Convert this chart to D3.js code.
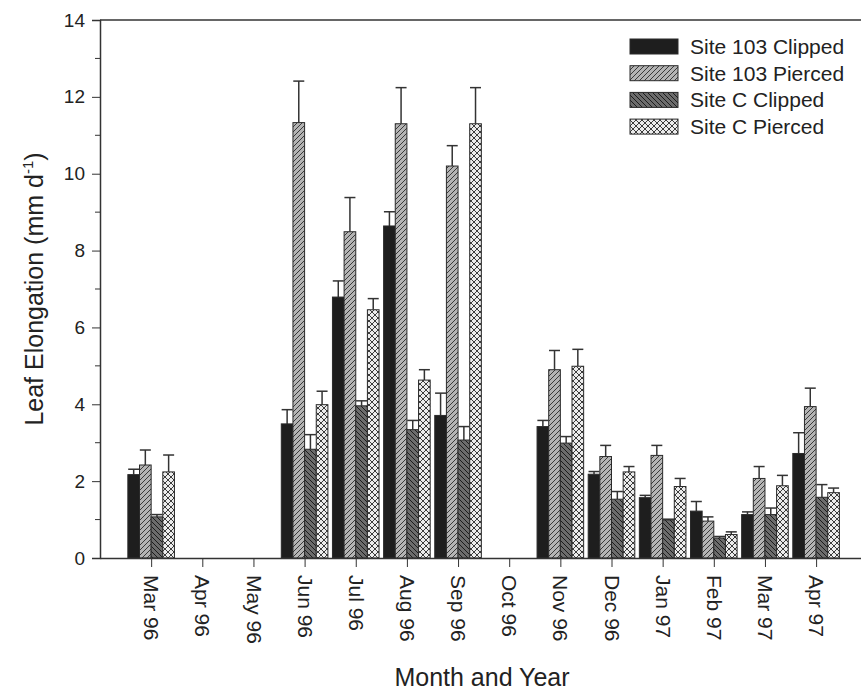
<!DOCTYPE html>
<html>
<head>
<meta charset="utf-8">
<script src="https://cdn.jsdelivr.net/npm/d3@7"></script>
<style>
  body { margin: 0; background: #fff; }
  svg { font-family: "Liberation Sans", Arial, sans-serif; }
</style>
</head>
<body>
<div id="chart"></div>
<script>
// data (means, and upper SE whisker length)
const months = ["Mar 96", "Apr 96", "May 96", "Jun 96", "Jul 96", "Aug 96", "Sep 96",
                "Oct 96", "Nov 96", "Dec 96", "Jan 97", "Feb 97", "Mar 97", "Apr 97"];
const seriesNames = ["Site 103 Clipped", "Site 103 Pierced", "Site C Clipped", "Site C Pierced"];

const clip103     = [2.17, null, null, 3.49, 6.79, 8.64, 3.71, null, 3.42, 2.18, 1.57, 1.22, 1.13, 2.72];
const clip103Err  = [0.14, null, null, 0.37, 0.42, 0.37, 0.58, null, 0.16, 0.07, 0.06, 0.25, 0.07, 0.54];
const pierce103   = [2.42, null, null, 11.33, 8.49, 11.30, 10.20, null, 4.90, 2.64, 2.67, 0.96, 2.07, 3.94];
const pierce103Err= [0.39, null, null, 1.08, 0.89, 0.94, 0.53, null, 0.50, 0.29, 0.26, 0.11, 0.31, 0.48];
const clipC       = [1.07, null, null, 2.83, 3.96, 3.34, 3.07, null, 2.99, 1.53, 0.99, 0.52, 1.13, 1.58];
const clipCErr    = [0.06, null, null, 0.38, 0.13, 0.24, 0.35, null, 0.17, 0.20, 0.02, 0.04, 0.17, 0.33];
const pierceC     = [2.24, null, null, 3.99, 6.46, 4.63, 11.30, null, 4.99, 2.24, 1.86, 0.61, 1.88, 1.70];
const pierceCErr  = [0.44, null, null, 0.35, 0.29, 0.27, 0.94, null, 0.44, 0.14, 0.21, 0.07, 0.27, 0.12];

const yTicks = [0, 2, 4, 6, 8, 10, 12, 14];

const seriesValues = [clip103, pierce103, clipC, pierceC];
const seriesErrs = [clip103Err, pierce103Err, clipCErr, pierceCErr];
const seriesFill = ["#1e1e1e", "url(#hatchFwd)", "url(#hatchBack)", "url(#cross)"];

const W = 861, H = 691;
const margin = {left: 100, top: 20, bottom: 558};
const step = 51.15;

const svg = d3.select("#chart").append("svg")
    .attr("width", W)
    .attr("height", H);

// patterns
const defs = svg.append("defs");

const fwd = defs.append("pattern")
    .attr("id", "hatchFwd")
    .attr("patternUnits", "userSpaceOnUse")
    .attr("width", 5).attr("height", 5);
fwd.append("rect").attr("width", 5).attr("height", 5).attr("fill", "#b4b4b4");
fwd.append("path").attr("d", "M-1,1 l2,-2 M0,5 l5,-5 M4,6 l2,-2")
    .attr("stroke", "#3a3a3a").attr("stroke-width", 1);

const back = defs.append("pattern")
    .attr("id", "hatchBack")
    .attr("patternUnits", "userSpaceOnUse")
    .attr("width", 5).attr("height", 5);
back.append("rect").attr("width", 5).attr("height", 5).attr("fill", "#6c6c6c");
back.append("path").attr("d", "M-1,4 l2,2 M0,0 l5,5 M4,-1 l2,2")
    .attr("stroke", "#1c1c1c").attr("stroke-width", 1);

const cross = defs.append("pattern")
    .attr("id", "cross")
    .attr("patternUnits", "userSpaceOnUse")
    .attr("width", 6).attr("height", 6);
cross.append("rect").attr("width", 6).attr("height", 6).attr("fill", "#ececec");
cross.append("path").attr("d", "M0,0 L6,6 M6,0 L0,6")
    .attr("stroke", "#3c3c3c").attr("stroke-width", 1);

// scales
const x = d3.scaleLinear()
    .domain([-1, months.length])
    .range([margin.left, margin.left + (months.length + 1) * step]);

const y = d3.scaleLinear()
    .domain([0, 14])
    .range([margin.bottom, margin.top]);

const sub = d3.scaleBand()
    .domain(seriesNames)
    .range([-23.3, 23.3]);

// frame: top line
svg.append("line")
    .attr("x1", margin.left).attr("x2", W)
    .attr("y1", margin.top).attr("y2", margin.top)
    .attr("stroke", "#333").attr("stroke-width", 1.5);

// bars
seriesNames.forEach((name, s) => {
    const rows = months.map((m, i) => ({i: i, v: seriesValues[s][i], e: seriesErrs[s][i]}))
        .filter(d => d.v != null);

    const g = svg.append("g");
    const cx = d => x(d.i) + sub(name) + sub.bandwidth() / 2;

    // error whiskers (upper only)
    g.selectAll("line.err")
        .data(rows)
        .join("line")
        .attr("class", "err")
        .attr("x1", cx).attr("x2", cx)
        .attr("y1", d => y(d.v))
        .attr("y2", d => y(d.v + d.e))
        .attr("stroke", "#333").attr("stroke-width", 1.5);

    g.selectAll("line.cap")
        .data(rows)
        .join("line")
        .attr("class", "cap")
        .attr("x1", d => cx(d) - 5.5)
        .attr("x2", d => cx(d) + 5.5)
        .attr("y1", d => y(d.v + d.e))
        .attr("y2", d => y(d.v + d.e))
        .attr("stroke", "#333").attr("stroke-width", 1.5);

    g.selectAll("rect")
        .data(rows)
        .join("rect")
        .attr("x", d => x(d.i) + sub(name))
        .attr("y", d => y(d.v))
        .attr("width", sub.bandwidth())
        .attr("height", d => y(0) - y(d.v))
        .attr("fill", seriesFill[s])
        .attr("stroke", "#2a2a2a")
        .attr("stroke-width", 1);
});

// y axis
const yAxis = svg.append("g")
    .attr("transform", `translate(${margin.left},0)`)
    .style("font", "19px 'Liberation Sans', Arial, sans-serif")
    .call(d3.axisLeft(y).tickValues(yTicks).tickSize(8).tickPadding(7));
yAxis.select(".domain").attr("stroke", "#333").attr("stroke-width", 1.5);
yAxis.selectAll(".tick line").attr("stroke", "#333");
yAxis.selectAll(".tick text").attr("fill", "#222");

// minor y ticks
svg.append("g")
    .selectAll("line")
    .data(d3.range(1, 14, 2))
    .join("line")
    .attr("x1", margin.left - 5).attr("x2", margin.left)
    .attr("y1", d => y(d)).attr("y2", d => y(d))
    .attr("stroke", "#333");

// x axis
const xAxis = svg.append("g")
    .attr("transform", `translate(0,${margin.bottom})`)
    .style("font", "21px 'Liberation Sans', Arial, sans-serif")
    .call(d3.axisBottom(x).tickValues(d3.range(months.length))
        .tickFormat(i => months[i]).tickSize(9).tickSizeOuter(0));
xAxis.select(".domain").attr("stroke", "#333").attr("stroke-width", 1.5);
xAxis.selectAll(".tick line").attr("stroke", "#333");
xAxis.selectAll(".tick text")
    .attr("fill", "#222")
    .attr("text-anchor", "start")
    .attr("transform", "rotate(90)")
    .attr("x", 17)
    .attr("y", 0)
    .attr("dy", "0.35em");

// axis titles
svg.append("text")
    .attr("x", 482)
    .attr("y", 686)
    .attr("text-anchor", "middle")
    .style("font", "25px 'Liberation Sans', Arial, sans-serif")
    .attr("fill", "#222")
    .text("Month and Year");

const yl = svg.append("text")
    .attr("transform", "translate(43,289) rotate(-90)")
    .attr("text-anchor", "middle")
    .style("font", "25px 'Liberation Sans', Arial, sans-serif")
    .attr("fill", "#222");
yl.append("tspan").text("Leaf Elongation (mm d");
yl.append("tspan").attr("dy", -10).style("font-size", "15px").text("-1");
yl.append("tspan").attr("dy", 10).text(")");

// legend
const legend = svg.append("g");
seriesNames.forEach((name, s) => {
    const ly = 39 + s * 26.7;
    legend.append("rect")
        .attr("x", 630).attr("y", ly)
        .attr("width", 48).attr("height", 15)
        .attr("fill", seriesFill[s])
        .attr("stroke", "#2a2a2a").attr("stroke-width", 1);
    legend.append("text")
        .attr("x", 690).attr("y", ly + 15)
        .style("font", "21px 'Liberation Sans', Arial, sans-serif")
        .attr("fill", "#222")
        .text(name);
});
</script>
</body>
</html>
